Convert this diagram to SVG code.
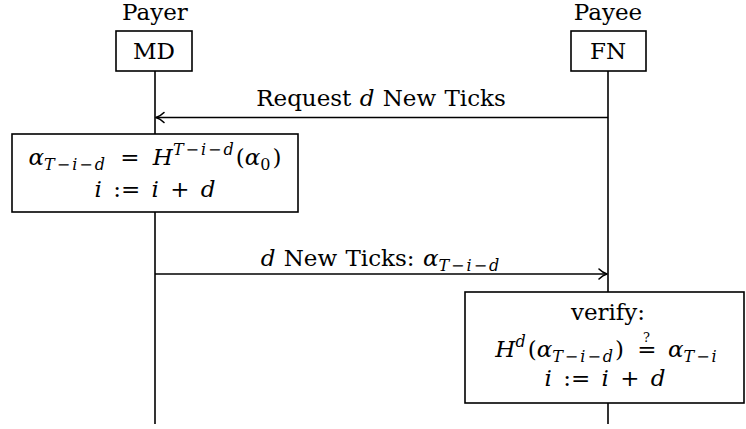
<svg xmlns="http://www.w3.org/2000/svg" width="746" height="429" viewBox="0 0 746 429">
  <defs>
    <style>
      text { font-family: "DejaVu Serif", serif; font-size: 23px; fill: #000; text-anchor: middle; white-space: pre; }
      .it { font-style: italic; }
      .msg-label { word-spacing: 1px; }
      .math { word-spacing: 6px; }
      .assign { word-spacing: 4px; }
      .sub { font-size: 16px; letter-spacing: 2px; }
      .q { font-size: 13px; letter-spacing: 0; }
      .box { fill: #fff; stroke: #000; stroke-width: 1.6; }
      .life { stroke: #000; stroke-width: 1.6; fill: none; }
      .msg { stroke: #000; stroke-width: 1.6; fill: none; marker-end: url(#tip); }
    </style>
    <marker id="tip" markerUnits="userSpaceOnUse" markerWidth="14" markerHeight="14" viewBox="-10 -7 12 14" refX="0" refY="0" orient="auto">
      <path d="M-8,-5 C-5,-2 -2,-0.6 0,0 C-2,0.6 -5,2 -8,5" fill="none" stroke="#000" stroke-width="1.6" stroke-linecap="round" stroke-linejoin="round"/>
    </marker>
  </defs>

  <!-- lifelines -->
  <g id="lifelines">
    <line class="life" x1="155" y1="71" x2="155" y2="424"/>
    <line class="life" x1="608" y1="71" x2="608" y2="424"/>
  </g>

  <!-- participants -->
  <g id="payer">
    <text x="155" y="20">Payer</text>
    <rect class="box" x="116" y="31" width="76" height="40"/>
    <text x="154" y="59">MD</text>
  </g>
  <g id="payee">
    <text x="608" y="20">Payee</text>
    <rect class="box" x="571" y="31" width="75" height="40"/>
    <text x="608" y="59">FN</text>
  </g>

  <!-- messages -->
  <g id="connectors">
    <line class="msg" x1="608" y1="117.5" x2="156" y2="117.5"/>
    <text class="msg-label" x="381" y="106">Request <tspan class="it">d</tspan> New Ticks</text>
    <line class="msg" x1="155" y1="274" x2="607" y2="274"/>
    <text class="msg-label" x="381" y="266"><tspan class="it">d</tspan> New Ticks: <tspan class="it">α</tspan><tspan class="sub" dy="5"><tspan class="it">T</tspan>−<tspan class="it">i</tspan>−<tspan class="it">d</tspan></tspan></text>
  </g>

  <!-- payer computes the next ticks -->
  <g id="compute">
    <rect class="box" x="12" y="134" width="286" height="78"/>
    <text class="math" x="155" y="165"><tspan class="it">α</tspan><tspan class="sub" dy="5"><tspan class="it">T</tspan>−<tspan class="it">i</tspan>−<tspan class="it">d</tspan></tspan><tspan dy="-5"> = </tspan><tspan class="it">H</tspan><tspan class="sub" dy="-10"><tspan class="it">T</tspan>−<tspan class="it">i</tspan>−<tspan class="it">d</tspan></tspan><tspan dy="10">(</tspan><tspan class="it">α</tspan><tspan class="sub" dy="5">0</tspan><tspan dy="-5">)</tspan></text>
    <text class="assign" x="155" y="197"><tspan class="it">i</tspan> := <tspan class="it">i</tspan> + <tspan class="it">d</tspan></text>
  </g>

  <!-- payee verifies the received ticks -->
  <g id="verify">
    <rect class="box" x="465" y="292" width="279" height="111"/>
    <text x="608" y="320">verify:</text>
    <text class="math" x="607" y="357"><tspan class="it">H</tspan><tspan class="sub it" dy="-10">d</tspan><tspan dy="10">(</tspan><tspan class="it">α</tspan><tspan class="sub" dy="5"><tspan class="it">T</tspan>−<tspan class="it">i</tspan>−<tspan class="it">d</tspan></tspan><tspan dy="-5">) =</tspan><tspan class="q" dx="-13.5" dy="-15">?</tspan><tspan dx="4.5" dy="15"> </tspan><tspan class="it">α</tspan><tspan class="sub" dy="5"><tspan class="it">T</tspan>−<tspan class="it">i</tspan></tspan></text>
    <text class="assign" x="605" y="386"><tspan class="it">i</tspan> := <tspan class="it">i</tspan> + <tspan class="it">d</tspan></text>
  </g>
</svg>
